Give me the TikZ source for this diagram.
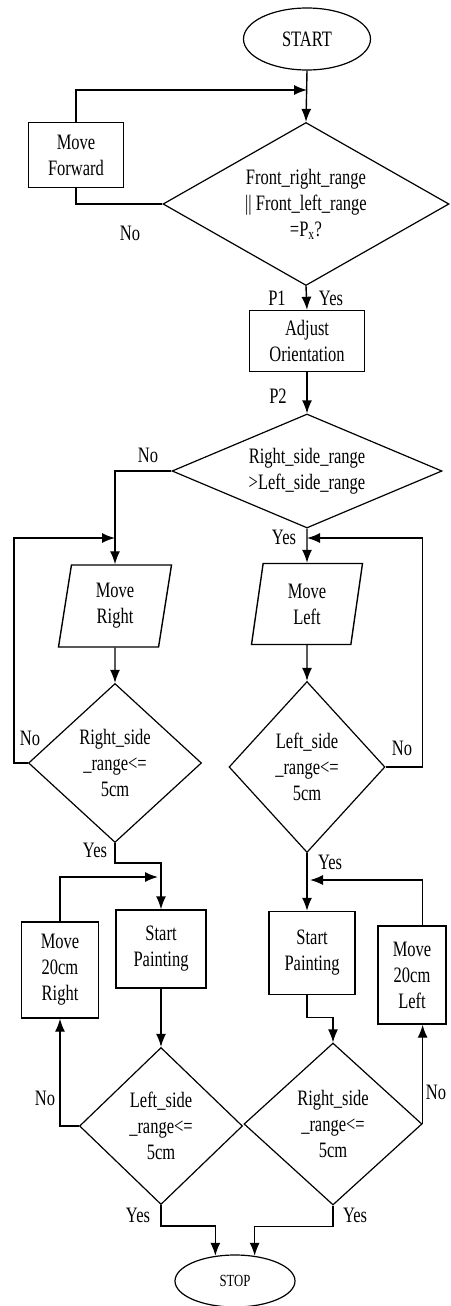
\documentclass[tikz,border=0pt]{standalone}
\usepackage{fontspec}
\setmainfont{Liberation Serif}
\newfontfamily\chartfont[FakeStretch=0.75]{Liberation Serif}
\usetikzlibrary{shapes.geometric,arrows.meta}

\begin{document}
\begin{tikzpicture}[x=1pt,y=-1pt,
  txt/.style={font=\chartfont\fontsize{22}{26}\selectfont, align=center, inner sep=0pt},
  procbox/.style={txt, draw, rectangle, line width=1.4pt},
  decision/.style={txt, draw, diamond, line width=1.2pt},
  terminal/.style={txt, draw, ellipse, line width=1.2pt},
  io/.style={txt, draw, trapezium, trapezium left angle=74, trapezium right angle=106,
             trapezium stretches body, line width=1.4pt},
  lbl/.style={txt},
  wire/.style={line width=1.4pt},
  flow/.style={wire, -{Latex[length=13pt,width=10pt]}},
]
\fill[white] (0,0) rectangle (450,1306);
\useasboundingbox (0,0) rectangle (450,1306);

% ---- top section
\node[terminal, minimum width=127pt, minimum height=62pt] (start) at (307,39) {START};
\node[procbox, minimum width=95pt, minimum height=65pt] (mf) at (76,155) {Move\\Forward};
\node[decision, minimum width=286pt, minimum height=163pt, shape aspect=1.75] (d1) at (306,204)
  {Front\_right\_range\\|| Front\_left\_range\\=P\textsubscript{x}?};
\node[procbox, minimum width=115pt, minimum height=61pt] (adj) at (307,341) {Adjust\\Orientation};
\node[decision, minimum width=270pt, minimum height=114pt, shape aspect=2.37] (d2) at (307,471)
  {Right\_side\_range\\>Left\_side\_range};

% ---- scanning loops
\node[io, minimum width=113pt, minimum height=82pt] (mr) at (115,606) {Move\\Right};
\node[io, minimum width=111pt, minimum height=81pt] (ml) at (307,604) {Move\\Left};
\node[decision, minimum width=173pt, minimum height=159pt, shape aspect=1.09] (d3) at (115,763)
  {Right\_side\\\_range<=\\5cm};
\node[decision, minimum width=156pt, minimum height=171pt, shape aspect=0.91] (d4) at (307,767)
  {Left\_side\\\_range<=\\5cm};

% ---- painting section
\node[procbox, minimum width=90pt, minimum height=78pt] (sp1) at (161,949) {Start\\Painting};
\node[procbox, minimum width=77pt, minimum height=96pt] (m20r) at (60,970) {Move\\20cm\\Right};
\node[procbox, minimum width=86pt, minimum height=83pt] (sp2) at (312,953) {Start\\Painting};
\node[procbox, minimum width=68pt, minimum height=98pt] (m20l) at (412,975) {Move\\20cm\\Left};
\node[decision, minimum width=163pt, minimum height=157pt, shape aspect=1.04] (d5) at (161,1126)
  {Left\_side\\\_range<=\\5cm};
\node[decision, minimum width=178pt, minimum height=162pt, shape aspect=1.1] (d6) at (333,1124)
  {Right\_side\\\_range<=\\5cm};
\node[terminal, minimum width=120pt, minimum height=52pt,
      font=\chartfont\fontsize{17}{20}\selectfont] (stop) at (235,1281) {STOP};

% ---- branch labels
\node[lbl] (l1) at (130,233) {No};
\node[lbl] (l2) at (277,298) {P1};
\node[lbl] (l3) at (331,298) {Yes};
\node[lbl] (l4) at (278,396) {P2};
\node[lbl] (l5) at (148,455) {No};
\node[lbl] (l6) at (284,537) {Yes};
\node[lbl] (l7) at (30,738) {No};
\node[lbl] (l8) at (402,748) {No};
\node[lbl] (l9) at (95,850) {Yes};
\node[lbl] (l10) at (330,862) {Yes};
\node[lbl] (l11) at (45,1098) {No};
\node[lbl] (l12) at (436,1092) {No};
\node[lbl] (l13) at (138,1215) {Yes};
\node[lbl] (l14) at (355,1215) {Yes};

% ---- junction points
\coordinate (j1) at (307,90);
\coordinate (j3) at (115,538);
\coordinate (j4) at (307,538);
\coordinate (j5) at (158,877);
\coordinate (j6) at (310,880);

% ---- connectors
\draw[flow] (start.south) -- (d1.north);
\draw[wire] (d1.west) -| (mf.south);
\draw[flow] (mf.north) |- (j1);
\draw[flow] (d1.south) -- (adj.north);
\draw[flow] (adj.south) -- (d2.north);

\draw[flow] (d2.west) -| (mr.north);
\draw[flow] (d2.south) -- (ml.north);
\draw[flow] (mr.south) -- (d3.north);
\draw[flow] (ml.south) -- (d4.north);
\draw[flow] (d3.west) -- ++(-14,0) |- (j3);
\draw[flow] (d4.east) -- ++(37,0) |- (j4);

\draw[flow] (d3.south) -- ++(0,20) -| (sp1.north);
\draw[flow] (m20r.north) |- (j5);
\draw[flow] (d4.south) -- (d4.south |- sp2.north);
\draw[flow] (d6.east |- m20l.north) |- (j6);
\draw[flow] (sp1.south) -- (d5.north);
\draw[flow] (sp2.south -| d4.south) -- ++(0,22) -| (d6.north);
\draw[flow] (d5.west) -| (m20r.south);
\draw[flow] (d6.east) -- (d6.east |- m20l.south);

\draw[flow] (d5.south) -- ++(0,21) -| (stop.128);
\draw[flow] (d6.south) -- ++(0,21) -| (stop.52);
\end{tikzpicture}
\end{document}
